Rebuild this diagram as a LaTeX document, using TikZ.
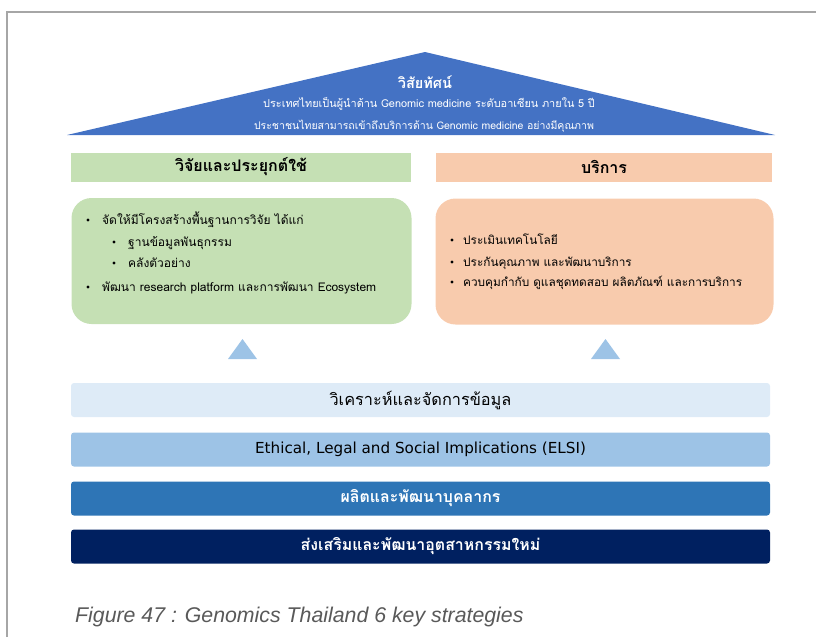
\documentclass[tikz,border=0pt]{standalone}
\usepackage{fontspec}
\setmainfont{Liberation Sans}
\newfontfamily\thaifont[Script=Thai]{Loma}
\newfontfamily\elsifont{DejaVu Sans}
\definecolor{croof}{HTML}{4472C4}
\definecolor{cres}{HTML}{C5E0B4}
\definecolor{cserv}{HTML}{F8CBAD}
\definecolor{carrow}{HTML}{9DC3E6}
\definecolor{cdata}{HTML}{DEEBF7}
\definecolor{celsi}{HTML}{9DC3E6}
\definecolor{cpeople}{HTML}{2E75B6}
\definecolor{cind}{HTML}{002060}
\definecolor{cframe}{HTML}{A6A6A6}

\begin{document}
\begin{tikzpicture}[x=1pt, y=-1pt, font=\thaifont,
    head/.style={fill=#1, minimum width=340, minimum height=29, inner sep=0pt,
      font=\thaifont\bfseries\fontsize{16}{18}\selectfont},
    panel/.style={fill=#1, rounded corners=20pt, minimum width=340, minimum height=126, inner sep=0pt},
    bar/.style={fill=#1, rounded corners=3pt, minimum width=699, minimum height=34, inner sep=0pt,
      font=\thaifont\fontsize{16.3}{18}\selectfont},
    barw/.style={bar=#1, text=white, font=\thaifont\bfseries\fontsize{15.9}{18}\selectfont},
    item/.style={anchor=base west, inner sep=0pt, font=\thaifont\fontsize{12}{14}\selectfont},
    dot/.style={fill=black}]
  \def\rx{102}   % text start, research items
  \def\sx{463}   % text start, service items
  \useasboundingbox (0,0) rectangle (816,637);
  % frame of the figure
  \draw[cframe, line width=1.5pt] (7,637) -- (7,12) -- (816,12);
  % ---------------- roof: vision
  \fill[croof] (67,135) -- (425,52) -- (775,135) -- cycle;
  \node[text=white, font=\thaifont\bfseries\fontsize{14.5}{16}\selectfont] (vis) at (425,82) {วิสัยทัศน์};
  \node[text=white, font=\thaifont\fontsize{10.9}{12}\selectfont] (vis1) at (429,104)
    {ประเทศไทยเป็นผู้นำด้าน Genomic medicine ระดับอาเซียน ภายใน 5 ปี};
  \node[text=white, font=\thaifont\fontsize{10.5}{12}\selectfont] (vis2) at (424,126)
    {ประชาชนไทยสามารถเข้าถึงบริการด้าน Genomic medicine อย่างมีคุณภาพ};
  % ---------------- two pillars
  \node[head=cres] (res) at (241,167) {วิจัยและประยุกต์ใช้};
  \node[head=cserv, minimum width=336] (serv) at (604,167) {บริการ};
  \node[panel=cres] (resbox) at (241.5,261) {};
  \node[panel=cserv, minimum width=338] (servbox) at (604.5,261.5) {};
  % research items
  \foreach \x/\y/\t in {\rx/224/จัดให้มีโครงสร้างพื้นฐานการวิจัย ได้แก่,
                        128/246/ฐานข้อมูลพันธุกรรม,
                        128/267/คลังตัวอย่าง,
                        \rx/291/พัฒนา research platform และการพัฒนา Ecosystem}{
    \fill[dot] (\x-14,\y-4) circle (1.7pt);
    \node[item] at (\x,\y) {\t};
  }
  % service items
  \foreach \y/\t in {244/ประเมินเทคโนโลยี,
                     266/ประกันคุณภาพ และพัฒนาบริการ,
                     286/ควบคุมกำกับ ดูแลชุดทดสอบ ผลิตภัณฑ์ และการบริการ}{
    \fill[dot] (\sx-11,\y-4) circle (1.7pt);
    \node[item, font=\thaifont\fontsize{11.8}{14}\selectfont] at (\sx,\y) {\t};
  }
  % supports pointing up
  \fill[carrow] (228,359) -- (242.5,339) -- (257,359) -- cycle;
  \fill[carrow] (591,359) -- (605.5,339) -- (620,359) -- cycle;
  % ---------------- foundation layers
  \node[bar=cdata] (data) at (420.5,400) {วิเคราะห์และจัดการข้อมูล};
  \node[bar=celsi, font=\elsifont\fontsize{15.2}{18}\selectfont] (elsi) at (420.5,449.5)
    {Ethical, Legal and Social Implications (ELSI)};
  \node[barw=cpeople] (people) at (420.5,498.5) {ผลิตและพัฒนาบุคลากร};
  \node[barw=cind] (ind) at (420.5,546.5) {ส่งเสริมและพัฒนาอุตสาหกรรมใหม่};
  % caption
  \node[anchor=base west, inner sep=0pt, text=black!65, font=\itshape\fontsize{21.3}{24}\selectfont]
    (cap) at (75,622) {Figure 47 : Genomics Thailand 6 key strategies};
\end{tikzpicture}
\end{document}
